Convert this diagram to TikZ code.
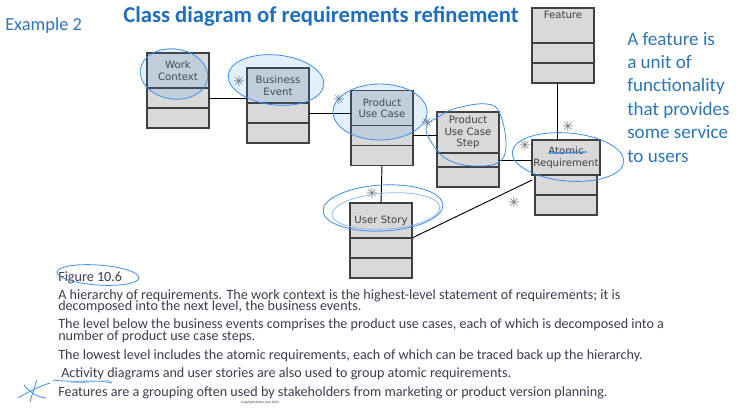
\documentclass[tikz,border=0pt]{standalone}
\usepackage{fontspec}
\setmainfont{Carlito}
\newfontfamily\boxfont{DejaVu Sans}
\usetikzlibrary{positioning,calc}

\definecolor{boxgray}{HTML}{D9D9D9}
\definecolor{boxline}{HTML}{404040}
\definecolor{inkblue}{HTML}{3C8DEB}
\definecolor{headblue}{HTML}{1F6FC0}
\definecolor{sideblue}{HTML}{2E75B6}
\definecolor{captext}{HTML}{403A50}

\tikzset{
  hdr/.style={draw=boxline,fill=boxgray,line width=0.9pt,outer sep=0pt,
    minimum width=46.5pt,minimum height=26.25pt,inner sep=1pt,align=center,
    text=black!75,font=\boxfont\fontsize{7.6}{8.6}\selectfont},
  cmp/.style={draw=boxline,fill=boxgray,line width=0.9pt,outer sep=0pt,
    minimum width=46.5pt,minimum height=15pt,inner sep=0pt},
  link/.style={line width=0.7pt},
  mult/.style={text=black!55,inner sep=0pt,font=\boxfont\fontsize{10.5}{10.5}\selectfont},
  ink/.style={draw=inkblue,line width=0.6pt},
  inkfill/.style={ink,fill=inkblue,fill opacity=0.14},
  capline/.style={anchor=base west,inner sep=0pt,text=captext,
    font=\fontsize{10.6}{12}\selectfont},
  sideline/.style={anchor=base west,inner sep=0pt,text=sideblue,
    font=\fontsize{14.3}{16}\selectfont},
}

\begin{document}
\begin{tikzpicture}[x=0.75pt,y=-0.75pt]
\path[use as bounding box] (0,0) rectangle (753,408);

% headings
\node[anchor=base west,inner sep=0pt,text=sideblue,font=\fontsize{13.8}{16}\selectfont] (example) at (5,30) {Example 2};
\node[anchor=base west,inner sep=0pt,text=headblue,font=\bfseries\fontsize{17}{19}\selectfont] (title) at (123,22) {Class diagram of requirements refinement};

% classes
\node[hdr] (wc) at (178,70.5) {Work\\Context};
\node[cmp,below=0pt of wc] (wc1) {};
\node[cmp,below=0pt of wc1] (wc2) {};

\node[hdr] (be) at (278,85.5) {Business\\Event};
\node[cmp,below=0pt of be] (be1) {};
\node[cmp,below=0pt of be1] (be2) {};

\node[hdr] (puc) at (382,108) {Product\\Use Case};
\node[cmp,below=0pt of puc] (puc1) {};
\node[cmp,below=0pt of puc1] (puc2) {};

\node[hdr,minimum height=30.75pt] (pucs) at (468,132.5) {Product\\Use Case\\Step};
\node[cmp,minimum height=10.5pt,below=0pt of pucs] (pucs1) {};
\node[cmp,below=0pt of pucs1] (pucs2) {};

\node[hdr,text depth=16pt] (ft) at (563,25.5) {Feature};
\node[cmp,below=0pt of ft] (ft1) {};
\node[cmp,below=0pt of ft1] (ft2) {};

\node[hdr] (ar) at (566,157.5) {Atomic\\Requirement};
\node[cmp,below=0pt of ar] (ar1) {};
\node[cmp,below=0pt of ar1] (ar2) {};

\node[hdr] (us) at (381,220.5) {User Story};
\node[cmp,below=0pt of us] (us1) {};
\node[cmp,below=0pt of us1] (us2) {};

% associations
\draw[link] (wc1.east) -- (wc1.east -| be.west);
\draw[link] (be1.east) -- (be1.east -| puc.west);
\draw[link] (puc1.east) -- (puc1.east -| pucs.west);
\draw[link] (pucs1.east) -- (pucs1.east -| ar.west);
\draw[link] ($(ft2.south)+(-6,0)$) -- ($(ar.north)+(-9,0)$);
\draw[link] (puc2.south) -- (us.north);
\draw[link] (us.south east) -- ($(ar.south west)+(0,5)$);

% multiplicities
\node[mult] (m1) at (239,81) {✳};
\node[mult] (m2) at (339,99) {✳};
\node[mult] (m3) at (427,122) {✳};
\node[mult] (m4) at (525,145) {✳};
\node[mult] (m5) at (568,126) {✳};
\node[mult] (m6) at (372,193) {✳};
\node[mult] (m7) at (514,202) {✳};

% side note
\foreach \txt [count=\i] in {A feature is,a unit of,functionality,that provides,some service,to users}
  \node[sideline] (side\i) at (627,{45+23.4*(\i-1)}) {\txt};

% caption
\node[capline] (fig) at (58,281) {Figure 10.6};
\node[capline] (cap1) at (58,299) {A hierarchy of requirements. The work context is the highest-level statement of requirements; it is};
\node[capline] (cap2) at (58,310) {decomposed into the next level, the business events.};
\node[capline] (cap3) at (58,328) {The level below the business events comprises the product use cases, each of which is decomposed into a};
\node[capline] (cap4) at (58,340) {number of product use case steps.};
\node[capline] (cap5) at (58,359) {The lowest level includes the atomic requirements, each of which can be traced back up the hierarchy.};
\node[capline] (cap6) at (61,377) {Activity diagrams and user stories are also used to group atomic requirements.};
\node[capline] (cap7) at (58,396) {Features are a grouping often used by stakeholders from marketing or product version planning.};
\node[anchor=base,inner sep=0pt,text=black!80,font=\fontsize{2.6}{3}\selectfont] (copy) at (260,403) {Copyright Robyn Lutz 2004};

% hand-drawn marks
\draw[inkfill,rotate around={-8:(174,74)}] (174,74) ellipse (34 and 25);
\draw[inkfill,rotate around={-6:(276,80)}] (276,80) ellipse (48 and 25);
\draw[inkfill] (380,112) ellipse (47 and 28);
\draw[ink] plot[smooth cycle,tension=0.7] coordinates {(426,128) (440,116) (457,108) (487,104) (500,114) (506,145) (499,162) (477,166) (453,162) (437,150)};
\draw[ink,rotate around={-5:(568,157)}] (568,157) ellipse (56 and 24);
\draw[ink,line width=1pt] ($(ar.north)+(-17,13)$) -- ($(ar.north)+(21,12)$);
\draw[ink,rotate around={3:(383,208)}] (383,208) ellipse (60 and 23);
\draw[ink,draw=inkblue!60,rotate around={4:(386,211)}] (386,211) ellipse (54 and 18);
\draw[ink,rotate around={-4:(98,275)}] (98,275) ellipse (41 and 10);
\draw[ink] (53,380) .. controls (75,383) and (95,379) .. (112,383);
\draw[ink,draw=inkblue!60] (70,382) .. controls (85,384) and (100,380) .. (112,381);
\draw[ink] (18,398) .. controls (28,392) and (40,386) .. (50,383);
\draw[ink] (24,385) .. controls (30,392) and (36,397) .. (46,398);
\draw[ink] (37,380) .. controls (34,388) and (32,395) .. (30,402);
\end{tikzpicture}
\end{document}
